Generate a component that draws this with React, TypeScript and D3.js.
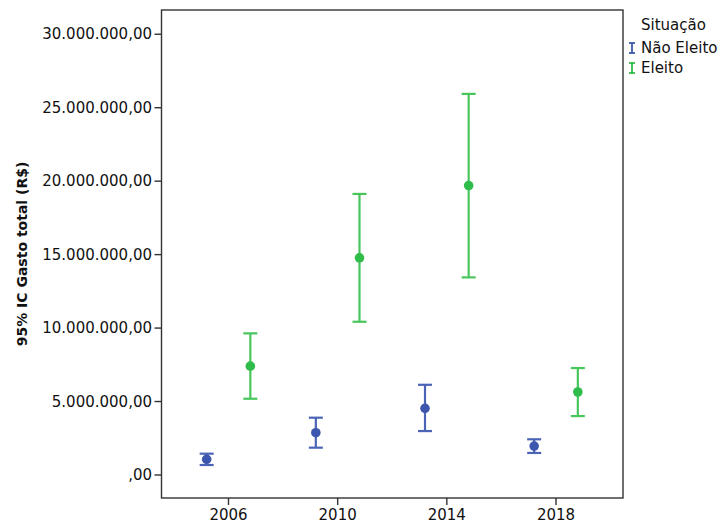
import * as d3 from "d3";

const years = [2006, 2010, 2014, 2018];
const groups = ["Não Eleito", "Eleito"];
const groupColors = ["#3d57ae", "#2fbc4a"];
const lineColors = ["#4b64b6", "#48c65c"];

// média e IC 95% em reais
const naoEleitoMean = [1070000, 2880000, 4540000, 1970000];
const naoEleitoLow = [680000, 1860000, 2990000, 1500000];
const naoEleitoHigh = [1450000, 3900000, 6140000, 2430000];

const eleitoMean = [7410000, 14780000, 19700000, 5650000];
const eleitoLow = [5190000, 10430000, 13450000, 4010000];
const eleitoHigh = [9640000, 19130000, 25940000, 7280000];

const yTicks = [0, 5000000, 10000000, 15000000, 20000000, 25000000, 30000000];

const W = 725;
const H = 523;
const font = "'DejaVu Sans', Verdana, sans-serif";

const ptBR = d3.formatLocale({ decimal: ",", thousands: ".", grouping: [3], currency: ["R$", ""] });
const fmt = ptBR.format(",.2f");
const tickLabel = (v: number) => (v === 0 ? ",00" : fmt(v));

export default function App() {
  const left = 161.5, right = 623, top = 10, bottom = 498;
  const x = d3.scaleLinear().domain([2003.545, 2020.455]).range([left, right]);
  const y = d3.scaleLinear().domain([-1566000, 31650000]).range([bottom, top]);
  const dodge = 0.8;

  const series = [
    { mean: naoEleitoMean, low: naoEleitoLow, high: naoEleitoHigh, off: -dodge },
    { mean: eleitoMean, low: eleitoLow, high: eleitoHigh, off: dodge },
  ];

  const cap = 7;

  return (
    <svg width={W} height={H} style={{ position: "absolute", left: 0, top: 0, background: "#fff" }}>
      <rect x={left} y={top} width={right - left} height={bottom - top} fill="none" stroke="#333" strokeWidth={1.4} />

      {yTicks.map((t) => (
        <g key={t}>
          <line x1={left - 7} x2={left} y1={y(t)} y2={y(t)} stroke="#333" strokeWidth={1.4} />
          <text x={left - 9.5} y={y(t)} textAnchor="end" dominantBaseline="central" fontFamily={font} fontSize={15} fill="#111">
            {tickLabel(t)}
          </text>
        </g>
      ))}

      {years.map((yr) => (
        <g key={yr}>
          <line x1={x(yr)} x2={x(yr)} y1={bottom} y2={bottom + 7} stroke="#333" strokeWidth={1.4} />
          <text x={x(yr)} y={520} textAnchor="middle" fontFamily={font} fontSize={15} fill="#111">
            {yr}
          </text>
        </g>
      ))}

      <text
        transform={`translate(27, ${(top + bottom) / 2}) rotate(-90)`}
        textAnchor="middle"
        fontFamily={font}
        fontSize={14}
        fontWeight="bold"
        fill="#111"
      >
        95% IC Gasto total (R$)
      </text>

      {series.map((s, gi) =>
        years.map((yr, i) => {
          const cx = x(yr + s.off);
          return (
            <g key={`${gi}-${yr}`}>
              <line x1={cx} x2={cx} y1={y(s.low[i])} y2={y(s.high[i])} stroke={lineColors[gi]} strokeWidth={2.2} />
              <line x1={cx - cap} x2={cx + cap} y1={y(s.low[i])} y2={y(s.low[i])} stroke={lineColors[gi]} strokeWidth={2.2} />
              <line x1={cx - cap} x2={cx + cap} y1={y(s.high[i])} y2={y(s.high[i])} stroke={lineColors[gi]} strokeWidth={2.2} />
              <circle cx={cx} cy={y(s.mean[i])} r={4.8} fill={groupColors[gi]} />
            </g>
          );
        })
      )}

      <text x={641} y={30} fontFamily={font} fontSize={15} fill="#111">
        Situação
      </text>
      {groups.map((g, i) => {
        const cy = 48 + i * 20;
        return (
          <g key={g}>
            <line x1={632} x2={632} y1={cy - 5} y2={cy + 5} stroke={groupColors[i]} strokeWidth={1.8} />
            <line x1={629} x2={635} y1={cy - 5} y2={cy - 5} stroke={groupColors[i]} strokeWidth={1.8} />
            <line x1={629} x2={635} y1={cy + 5} y2={cy + 5} stroke={groupColors[i]} strokeWidth={1.8} />
            <text x={641} y={cy} dominantBaseline="central" fontFamily={font} fontSize={15} fill="#111">
              {g}
            </text>
          </g>
        );
      })}
    </svg>
  );
}
